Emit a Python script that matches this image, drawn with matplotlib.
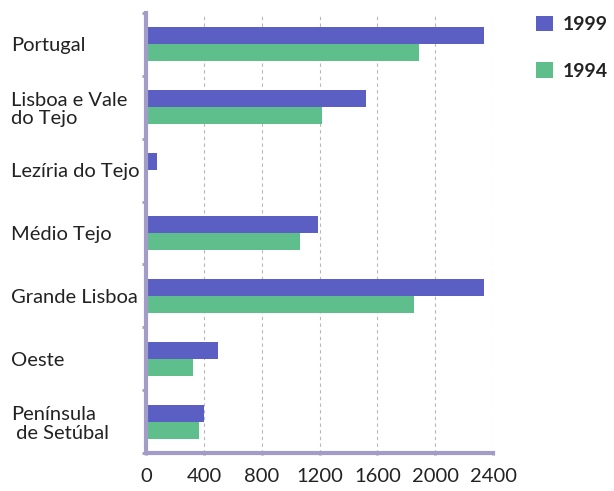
import matplotlib
matplotlib.use('Agg')
import matplotlib.pyplot as plt
import numpy as np

# Regions, top to bottom
regions = ['Portugal', 'Lisboa e Vale\ndo Tejo', 'Lezíria do Tejo', 'Médio Tejo',
           'Grande Lisboa', 'Oeste', 'Península\n de Setúbal']
values_1999 = [2340, 1520, 75, 1190, 2340, 500, 400]
values_1994 = [1890, 1215, 0, 1065, 1855, 325, 365]
years = ['1999', '1994']
xticks = [0, 400, 800, 1200, 1600, 2000, 2400]

blue = '#5b5fc4'
green = '#5fbf8c'
spine = '#a29cc8'

plt.rcParams['font.family'] = ['Lato', 'DejaVu Sans']

fig = plt.figure(figsize=(6.14, 4.91), dpi=100)
ax = fig.add_axes([0.238, 0.077, 0.565, 0.897])

y = np.arange(len(regions))
h = 0.27
b1 = ax.barh(y - h / 2, values_1999, height=h, color=blue, edgecolor='none', label=years[0])
b2 = ax.barh(y + h / 2, values_1994, height=h, color=green, edgecolor='none', label=years[1])

ax.set_xlim(0, 2400)
ax.set_ylim(len(regions) - 0.5, -0.5)
ax.set_xticks(xticks)
ax.set_xticklabels([str(t) for t in xticks], fontsize=14.5, color='#222222')

ax.set_yticks(np.arange(-0.5, len(regions) + 0.5, 1), minor=False)
ax.set_yticklabels([])
ax.set_yticks(y, minor=True)
ax.set_yticklabels(regions, minor=True, fontsize=14.5, color='#222222', ha='left',
                   linespacing=1.1)
ax.tick_params(axis='y', which='minor', length=0, pad=97)
ax.tick_params(axis='y', which='major', length=3, width=2, color=spine, direction='out')
ax.tick_params(axis='x', length=3, width=2, color=spine, direction='inout', pad=9)

for s in ['top', 'right']:
    ax.spines[s].set_visible(False)
for s in ['left', 'bottom']:
    ax.spines[s].set_color(spine)
    ax.spines[s].set_linewidth(3)

ax.xaxis.grid(True, linestyle=(0, (3, 3)), color='#b8b8b8', linewidth=0.8)
ax.set_axisbelow(True)

leg = fig.legend(handles=[b1, b2], loc='upper left', bbox_to_anchor=(0.873, 0.968),
                 frameon=False, borderpad=0, borderaxespad=0,
                 handlelength=0.85, handleheight=0.85,
                 handletextpad=0.55, labelspacing=1.5, prop={'weight': 'bold', 'size': 14})
for t in leg.get_texts():
    t.set_color('#222222')

fig.savefig('out.png', dpi=100)
